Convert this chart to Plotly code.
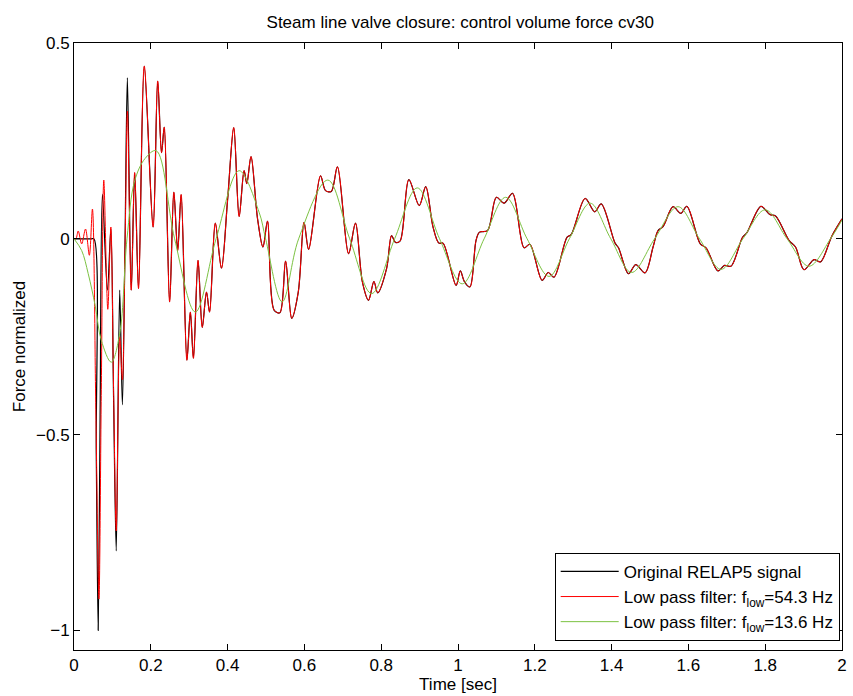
import plotly.graph_objects as go

# ---- data ----
# early part of the original RELAP5 signal (black)
black_early_t = [0.000, 0.020, 0.045, 0.052, 0.058, 0.063, 0.068, 0.074, 0.087, 0.096, 0.103, 0.110,
                 0.119, 0.126, 0.133, 0.139]
black_early_v = [0.000, 0.000, 0.000, 0.000, -0.55, -1.000, -0.45, 0.114, -0.131, 0.025, -0.40, -0.797,
                 -0.131, -0.424, 0.00, 0.411]

# early part of the 54.3 Hz low pass filtered signal (red)
red_early_t = [0.000, 0.005, 0.011, 0.020, 0.030, 0.040, 0.048, 0.057, 0.065, 0.071, 0.0776, 0.088,
               0.096, 0.103, 0.110, 0.119, 0.126, 0.133, 0.139]
red_early_v = [0.000, 0.000, 0.020, -0.013, 0.025, -0.042, 0.076, -0.45, -0.920, -0.40, 0.150, -0.180,
               0.030, -0.38, -0.746, -0.250, -0.360, -0.02, 0.326]

# part where both curves coincide
common_t = [0.149, 0.158, 0.168, 0.183, 0.206, 0.218, 0.228, 0.235, 0.249, 0.260, 0.270, 0.279,
            0.294, 0.303, 0.311, 0.323, 0.334, 0.345, 0.353, 0.368, 0.384, 0.400, 0.416, 0.430,
            0.443, 0.450, 0.461, 0.478, 0.492, 0.504, 0.521, 0.536, 0.551, 0.567, 0.584, 0.599,
            0.611, 0.642, 0.655, 0.670, 0.686, 0.715, 0.733, 0.751, 0.767, 0.781, 0.791, 0.814,
            0.827, 0.837, 0.849, 0.872, 0.899, 0.916, 0.935, 0.950, 0.961, 0.995, 1.006, 1.017,
            1.031, 1.047, 1.056, 1.077, 1.100, 1.120, 1.142, 1.172, 1.187, 1.219, 1.235, 1.250,
            1.284, 1.295, 1.331, 1.356, 1.373, 1.409, 1.418, 1.444, 1.463, 1.487, 1.508, 1.521,
            1.534, 1.560, 1.580, 1.596, 1.631, 1.646, 1.677, 1.694, 1.711, 1.741, 1.752, 1.789,
            1.812, 1.827, 1.862, 1.879, 1.901, 1.927, 1.944, 1.974, 2.000]
common_v = [-0.131, 0.169, -0.127, 0.441, 0.030, 0.403, 0.220, 0.285, -0.161, 0.119, -0.030, 0.113,
            -0.310, -0.187, -0.305, -0.055, -0.226, -0.136, -0.187, 0.040, -0.075, 0.100, 0.284, 0.057,
            0.174, 0.141, 0.210, 0.051, -0.021, 0.045, -0.182, -0.189, -0.057, -0.203, -0.136, 0.042,
            -0.027, 0.161, 0.123, 0.121, 0.184, -0.038, 0.040, -0.110, -0.157, -0.109, -0.138, -0.076,
            0.008, -0.009, -0.006, 0.151, 0.085, 0.133, 0.030, -0.011, -0.011, -0.119, -0.082, -0.110,
            -0.123, -0.004, 0.017, 0.021, 0.106, 0.091, 0.116, -0.023, -0.014, -0.106, -0.086, -0.098,
            0.004, 0.011, 0.103, 0.069, 0.089, -0.011, -0.023, -0.089, -0.066, -0.087, -0.021, 0.021,
            0.031, 0.082, 0.065, 0.083, -0.013, -0.023, -0.082, -0.068, -0.070, 0.004, 0.015, 0.083,
            0.062, 0.058, -0.004, -0.021, -0.079, -0.053, -0.059, 0.008, 0.051]

# 13.6 Hz low pass filtered signal (green)
green_t = [0.000, 0.020, 0.037, 0.055, 0.071, 0.097, 0.119, 0.138, 0.158, 0.185, 0.214, 0.262,
           0.316, 0.370, 0.430, 0.482, 0.499, 0.542, 0.585, 0.661, 0.718, 0.775, 0.835, 0.894,
           0.952, 1.011, 1.068, 1.124, 1.180, 1.237, 1.290, 1.344, 1.398, 1.452, 1.512, 1.573,
           1.629, 1.685, 1.742, 1.800, 1.857, 1.914, 1.970, 2.000]
green_v = [0.000, -0.030, -0.089, -0.170, -0.259, -0.315, -0.242, 0.000, 0.148, 0.205, 0.225, 0.000,
           -0.187, 0.000, 0.174, 0.068, 0.000, -0.161, 0.000, 0.150, 0.000, -0.140, 0.000, 0.130,
           0.000, -0.115, 0.000, 0.106, 0.000, -0.096, 0.000, 0.091, 0.000, -0.086, 0.000, 0.082,
           0.000, -0.078, 0.000, 0.074, 0.000, -0.070, 0.000, 0.048]

x_tickvals = [0, 0.2, 0.4, 0.6, 0.8, 1.0, 1.2, 1.4, 1.6, 1.8, 2.0]
x_ticktext = ["0", "0.2", "0.4", "0.6", "0.8", "1", "1.2", "1.4", "1.6", "1.8", "2"]
y_tickvals = [-1, -0.5, 0, 0.5]
y_ticktext = ["\u22121", "\u22120.5", "0", "0.5"]

black_t = black_early_t + common_t
black_v = black_early_v + common_v
red_t = red_early_t + common_t
red_v = red_early_v + common_v

FONT = "Liberation Sans, Arial, Helvetica, sans-serif"

fig = go.Figure()
fig.add_trace(go.Scatter(x=black_t, y=black_v, mode="lines", name="Original RELAP5 signal",
                         line=dict(color="black", width=1.2, shape="spline", smoothing=0.9)))
fig.add_trace(go.Scatter(x=red_t, y=red_v, mode="lines",
                         name="Low pass filter: f<sub>low</sub>=54.3 Hz",
                         line=dict(color="#ff0000", width=1, shape="spline", smoothing=0.9)))
fig.add_trace(go.Scatter(x=green_t, y=green_v, mode="lines",
                         name="Low pass filter: f<sub>low</sub>=13.6 Hz",
                         line=dict(color="#7cc242", width=1, shape="spline", smoothing=1.0)))

axis_common = dict(showline=True, linecolor="black", linewidth=1, mirror="ticks",
                   ticks="inside", ticklen=6, tickcolor="black", showgrid=False, zeroline=False,
                   tickfont=dict(size=17, color="black", family=FONT))

fig.update_layout(
    width=853, height=696,
    margin=dict(l=74, r=6, t=43, b=44),
    paper_bgcolor="white", plot_bgcolor="white",
    font=dict(family=FONT, color="black"),
    title=dict(text="Steam line valve closure: control volume force cv30",
               x=0.5396, xanchor="center", y=0.9677, yanchor="middle",
               font=dict(size=17, family=FONT, color="black")),
    xaxis=dict(range=[0, 2], tickvals=x_tickvals, ticktext=x_ticktext,
               title=dict(text="Time [sec]", font=dict(size=17, family=FONT), standoff=3),
               **axis_common),
    yaxis=dict(range=[-1.05, 0.5], tickvals=y_tickvals, ticktext=y_ticktext,
               title=dict(text="Force normalized", font=dict(size=17, family=FONT), standoff=6),
               **axis_common),
    legend=dict(x=0.997, y=0.015, xanchor="right", yanchor="bottom",
                bgcolor="white", bordercolor="black", borderwidth=1,
                font=dict(size=17, family=FONT, color="black"),
                itemwidth=58, tracegroupgap=0),
    showlegend=True,
)

fig.write_html("out.html")
